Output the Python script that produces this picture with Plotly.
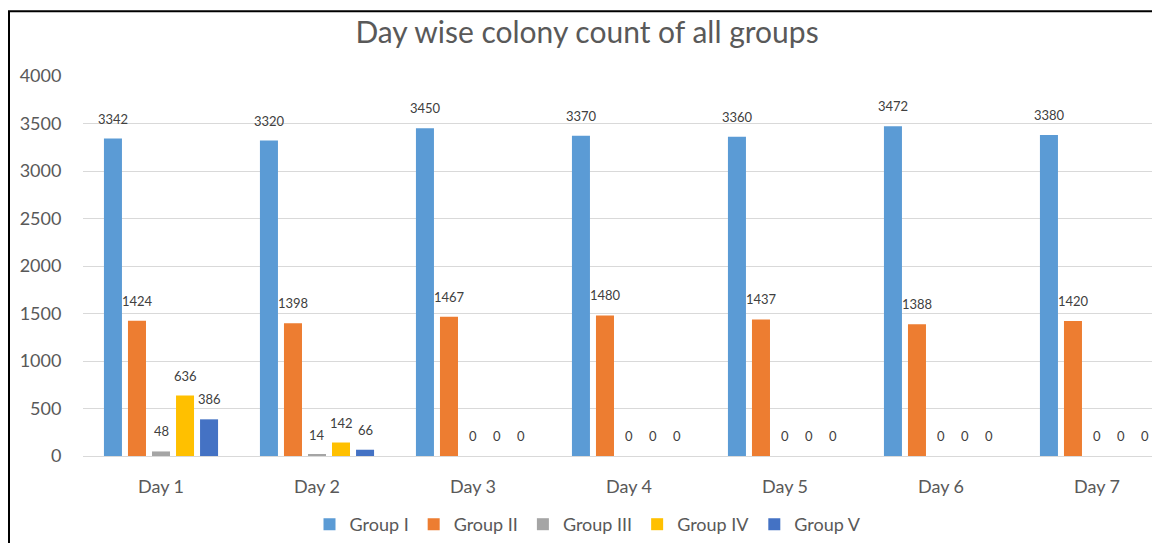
import plotly.graph_objects as go

days = ["Day 1", "Day 2", "Day 3", "Day 4", "Day 5", "Day 6", "Day 7"]
group_names = ["Group I", "Group II", "Group III", "Group IV", "Group V"]
group_i = [3342, 3320, 3450, 3370, 3360, 3472, 3380]
group_ii = [1424, 1398, 1467, 1480, 1437, 1388, 1420]
group_iii = [48, 14, 0, 0, 0, 0, 0]
group_iv = [636, 142, 0, 0, 0, 0, 0]
group_v = [386, 66, 0, 0, 0, 0, 0]
colors = ["#5B9BD5", "#ED7D31", "#A5A5A5", "#FFC000", "#4472C4"]

series = [group_i, group_ii, group_iii, group_iv, group_v]

FONT = "Lato, 'Open Sans', sans-serif"
W, H = 1152, 543
# page coords: plot x 83..1152, y 76..458
ML, MR, MT = 83, 0, 76
MB = H - 458
plot_w = W - ML - MR
plot_h = H - MT - MB

fig = go.Figure()
for name, vals, col in zip(group_names, series, colors):
    fig.add_trace(go.Bar(name=name, x=days, y=vals, marker=dict(color=col, line=dict(width=0))))

cat_px = 156.0
bar_step = 24
annotations = []
for gi, vals in enumerate(series):
    for d, v in zip(days, vals):
        annotations.append(dict(
            x=d, y=v, xref="x", yref="y", text=str(v), showarrow=False,
            xshift=(gi - 2) * bar_step, yshift=20,
            font=dict(family=FONT, size=13, color="#404040"),
        ))

shapes = [dict(
    type="rect", xref="paper", yref="paper",
    x0=(9 - ML) / plot_w, x1=1 + 5 / plot_w,
    y0=-(MB + 5) / plot_h, y1=1 + (MT - 11) / plot_h,
    line=dict(color="black", width=2), fillcolor="rgba(0,0,0,0)", layer="below",
)]

fig.update_layout(
    width=W, height=H,
    margin=dict(l=ML, r=MR, t=MT, b=MB),
    paper_bgcolor="white", plot_bgcolor="white",
    title=dict(text="Day wise colony count of all groups", x=587 / W, xref="container",
               xanchor="center", y=1 - 32 / H, yanchor="middle",
               font=dict(family=FONT, size=30, color="#595959")),
    barmode="group", bargap=0.23, bargroupgap=0.25,
    legend=dict(orientation="h", x=(588 - ML) / plot_w, xanchor="center",
                y=-(527 - 458) / plot_h, yanchor="middle",
                font=dict(family=FONT, size=18, color="#595959"),
                itemwidth=30, traceorder="normal"),
    annotations=annotations,
    shapes=shapes,
    showlegend=True,
)
fig.update_yaxes(range=[0, 4000], dtick=500, tick0=0, showgrid=True, gridcolor="#D9D9D9", gridwidth=1,
                 zeroline=True, zerolinecolor="#D9D9D9", zerolinewidth=1,
                 ticks="outside", ticklen=17, tickcolor="rgba(0,0,0,0)",
                 tickfont=dict(family=FONT, size=18, color="#595959"))
fig.update_xaxes(range=[-0.5, 6.5 - (1175 - 1152) / cat_px], showgrid=False,
                 showline=True, linecolor="#D9D9D9", linewidth=1,
                 ticks="outside", ticklen=14, tickcolor="rgba(0,0,0,0)",
                 tickfont=dict(family=FONT, size=18, color="#595959"))

fig.write_html("out.html",
               config={"displayModeBar": False},
               post_script="document.body.style.margin='0';document.body.style.overflow='hidden';")
